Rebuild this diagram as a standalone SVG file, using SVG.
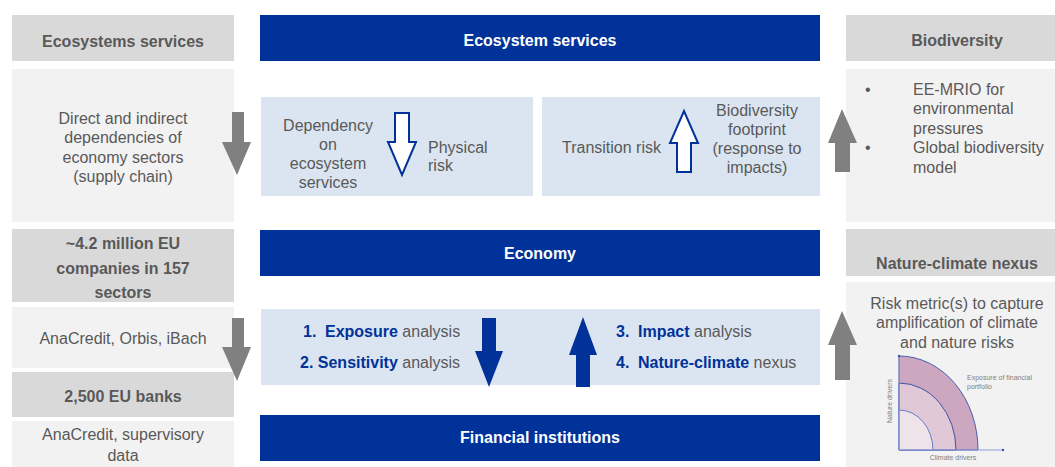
<svg xmlns="http://www.w3.org/2000/svg" width="1055" height="467" viewBox="0 0 1055 467">
<style>
text{font-family:"Liberation Sans",Arial,sans-serif;font-size:16px;fill:#595959}
.hd{fill:#d9d9d9}
.bd{fill:#f2f2f2}
.lb{fill:#dbe5f1}
.bar{fill:#003299}
.b{font-weight:bold}
.w{fill:#ffffff;font-weight:bold}
.c{text-anchor:middle}
.blue{fill:#003299;font-weight:bold}
.ga{fill:#808080}
.oa{fill:#ffffff;stroke:#003299;stroke-width:2}
.sa{fill:#003299}
.sm{font-size:7px;fill:#7f7f7f}
</style>
<rect width="1055" height="467" fill="#ffffff"/>

<g id="left-ecosystems">
<rect class="hd" x="12" y="15" width="222" height="46"/>
<text class="b c" x="123" y="46.6">Ecosystems services</text>
<rect class="bd" x="12" y="69" width="222" height="153"/>
<text class="c" x="123" y="123.5">Direct and indirect</text>
<text class="c" x="123" y="143">dependencies of</text>
<text class="c" x="123" y="162.5">economy sectors</text>
<text class="c" x="123" y="182">(supply chain)</text>
</g>

<g id="left-companies">
<rect class="hd" x="12" y="229" width="222" height="73"/>
<text class="b c" x="123" y="248.6">~4.2 million EU</text>
<text class="b c" x="123" y="273.6">companies in 157</text>
<text class="b c" x="123" y="297.6">sectors</text>
<rect class="bd" x="12" y="307" width="222" height="61"/>
<text class="c" x="123" y="343.6">AnaCredit, Orbis, iBach</text>
</g>

<g id="left-banks">
<rect class="hd" x="12" y="372" width="222" height="45"/>
<text class="b c" x="123" y="401.6">2,500 EU banks</text>
<rect class="bd" x="12" y="421" width="222" height="46"/>
<text class="c" x="123" y="439.5">AnaCredit, supervisory</text>
<text class="c" x="123" y="461">data</text>
</g>

<g id="bar-ecosystem">
<rect class="bar" x="260" y="15" width="560" height="46"/>
<text class="w c" x="540" y="45.6">Ecosystem services</text>
</g>

<g id="box-physical">
<rect class="lb" x="261" y="97" width="272" height="99"/>
<text class="c" x="328" y="131">Dependency</text>
<text class="c" x="328" y="150">on</text>
<text class="c" x="328" y="169">ecosystem</text>
<text class="c" x="328" y="188">services</text>
<text x="428" y="152.6">Physical</text>
<text x="428" y="170.6">risk</text>
</g>

<g id="box-transition">
<rect class="lb" x="542" y="97" width="278" height="99"/>
<text x="562" y="152.6">Transition risk</text>
<text class="c" x="757" y="115.6">Biodiversity</text>
<text class="c" x="757" y="134.6">footprint</text>
<text class="c" x="757" y="153.6">(response to</text>
<text class="c" x="757" y="172.6">impacts)</text>
</g>

<g id="bar-economy">
<rect class="bar" x="260" y="230" width="560" height="46"/>
<text class="w c" x="540" y="258.6">Economy</text>
</g>

<g id="box-analysis">
<rect class="lb" x="261" y="309" width="559" height="76"/>
<text y="336.6"><tspan class="blue" x="303">1.</tspan><tspan class="blue" x="325">Exposure</tspan> analysis</text>
<text x="300" y="367.6"><tspan class="blue">2. Sensitivity</tspan> analysis</text>
<text y="336.6"><tspan class="blue" x="616">3.</tspan><tspan class="blue" x="638">Impact</tspan> analysis</text>
<text y="367.6"><tspan class="blue" x="616">4.</tspan><tspan class="blue" x="638">Nature-climate</tspan> nexus</text>
</g>

<g id="bar-financial">
<rect class="bar" x="260" y="415" width="560" height="46"/>
<text class="w c" x="540" y="442.6">Financial institutions</text>
</g>

<g id="right-biodiversity">
<rect class="hd" x="846" y="15" width="209" height="46"/>
<text class="b c" x="957" y="45.6">Biodiversity</text>
<rect class="bd" x="846" y="69" width="209" height="153"/>
<text x="865" y="94.5">•</text>
<text x="865" y="153">•</text>
<text x="913" y="94.5">EE-MRIO for</text>
<text x="913" y="114">environmental</text>
<text x="913" y="133.5">pressures</text>
<text x="913" y="153">Global biodiversity</text>
<text x="913" y="172.5">model</text>
</g>

<g id="right-nexus">
<rect class="hd" x="846" y="229" width="209" height="47"/>
<text class="b c" x="957" y="268.6">Nature-climate nexus</text>
<rect class="bd" x="846" y="282" width="209" height="185"/>
<text class="c" x="957" y="308.6">Risk metric(s) to capture</text>
<text class="c" x="957" y="328">amplification of climate</text>
<text class="c" x="957" y="347.6">and nature risks</text>
<g id="nexus-chart">
<path d="M899,450 L899,356 A79,94 0 0 1 978,450 Z" fill="#cda6bf" stroke="#4a5cb0" stroke-width="1"/>
<path d="M899,450 L899,383 A57,67 0 0 1 956,450 Z" fill="#e0c8d6" stroke="#3f51a8" stroke-width="1"/>
<path d="M899,450 L899,410 A34,40 0 0 1 933,450 Z" fill="#efe3ea" stroke="#6b7cc4" stroke-width="1"/>
<line x1="899" y1="450" x2="1003" y2="450" stroke="#8e9ad4" stroke-width="1"/>
<line x1="899" y1="450" x2="899" y2="356" stroke="#8e9ad4" stroke-width="1"/>
<circle cx="1003" cy="450" r="1.2" fill="#3f51a8"/>
<circle cx="899" cy="356" r="1.2" fill="#3f51a8"/>
<text class="sm" x="967" y="380">Exposure of financial</text>
<text class="sm" x="967" y="389">portfolio</text>
<text class="sm c" x="953" y="460">Climate drivers</text>
<text class="sm c" transform="translate(892,401) rotate(-90)">Nature drivers</text>
</g>
</g>

<g id="connectors">
<path class="ga" d="M232,112 H244 V142 H251 L237,175 L222,142 H232 Z"/>
<path class="ga" d="M232,318 H244 V347 H251 L237,381 L222,347 H232 Z"/>
<path class="ga" d="M835,172 H850 V143 H857 L842,109 L828,143 H835 Z"/>
<path class="ga" d="M835,380 H850 V345 H857 L842,311 L828,345 H835 Z"/>
<path class="oa" d="M395,113 H409 V142 H416 L402,175 L388,142 H395 Z"/>
<path class="oa" d="M677,172 H691 V143 H698 L684,111 L670,143 H677 Z"/>
<path class="sa" d="M482,318 H496 V351 H503 L489,387 L475,351 H482 Z"/>
<path class="sa" d="M576,387 H590 V355 H597 L583,317 L569,355 H576 Z"/>
</g>
</svg>
